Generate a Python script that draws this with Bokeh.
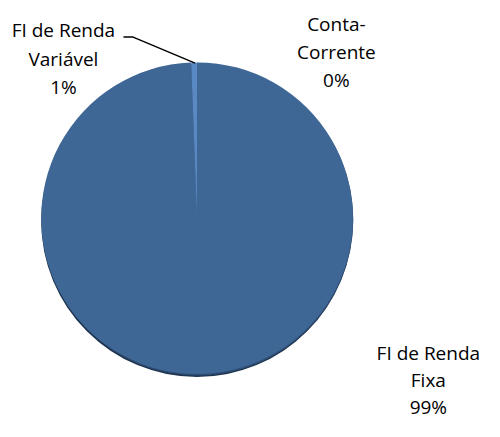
import numpy as np
from bokeh.plotting import figure
from bokeh.models import Range1d
from bokeh.core.properties import value
from bokeh.embed import file_html
from bokeh.resources import INLINE

# ---- data ----
categories = ["FI de Renda Fixa", "FI de Renda Variável", "Conta-Corrente"]
shares = [99.4, 0.6, 0.0]
label_lines = [["FI de Renda", "Fixa"], ["FI de Renda", "Variável"], ["Conta-", "Corrente"]]
colors = ["#3F6796", "#5A88C2", "#8FB0DA"]

W, H = 484, 421
REFW, REFH = 500, 437
# data coords: x = reference x, y = REFH - reference y
def sy(y):
    return REFH - y

p = figure(width=W, height=H, output_backend="svg", toolbar_location=None,
           x_range=Range1d(0, REFW), y_range=Range1d(0, REFH),
           min_border=0, outline_line_color=None)
p.axis.visible = False
p.grid.visible = False
p.background_fill_color = "white"
p.border_fill_color = "white"

cx, cy, r = 203, sy(226), 161

# shadow under pie
p.circle(x=[cx], y=[cy - 3], radius=r, fill_color="#1E3450", line_color=None)
p.circle(x=[cx + 0.5], y=[cy - 1.5], radius=r, fill_color="#2E4D73", line_color=None)

total = sum(shares)
fr = np.array(shares) / total
cum = np.concatenate([[0], np.cumsum(fr)])
start = np.pi / 2 - 2 * np.pi * cum[:-1]
end = np.pi / 2 - 2 * np.pi * cum[1:]
for i in range(len(categories)):
    if fr[i] <= 0:
        continue
    p.wedge(x=[cx], y=[cy], radius=r, start_angle=[start[i]], end_angle=[end[i]],
            direction="clock", fill_color=colors[i], line_color=None)

# label placement (reference coords of first line centre, line gap)
label_pos = [(442, 366, 28), (65, 31, 29.5), (347, 24, 29.5)]
for i in range(len(categories)):
    lines = label_lines[i] + [f"{round(shares[i])}%"]
    lx, ly, gap = label_pos[i]
    ys = [sy(ly + k * gap) for k in range(len(lines))]
    p.text(x=[lx] * len(lines), y=ys, text=lines, text_align="center",
           text_baseline="middle", text_font=value("Open Sans"),
           text_font_size="19px", text_color="#000000")

# leader line for the small slice
p.line(x=[127, 137, 201], y=[sy(38), sy(38), sy(65)], line_color="black", line_width=1.5)

open("out.html", "w").write(file_html(p, INLINE))
